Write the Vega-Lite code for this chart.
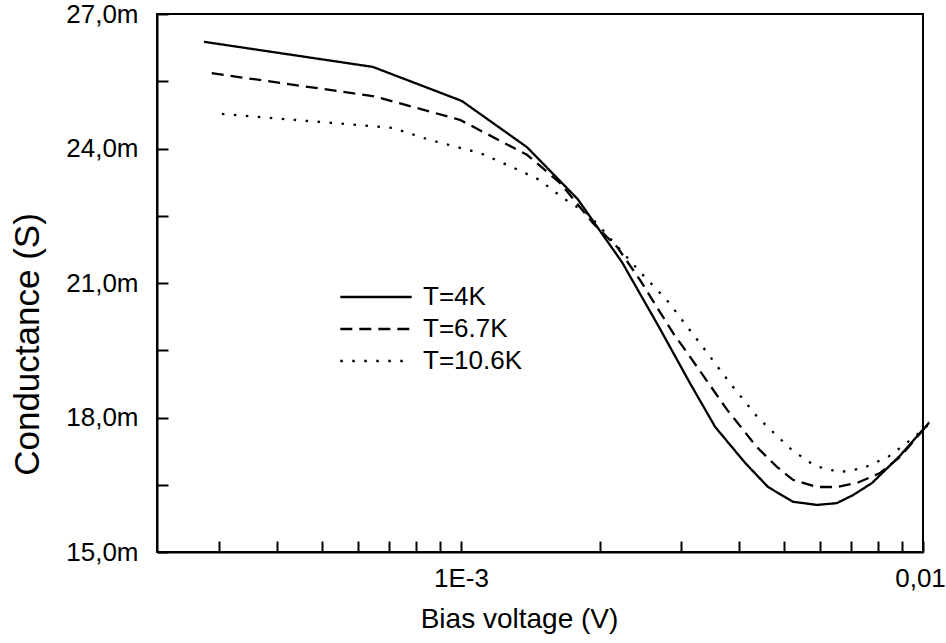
{
  "$schema": "https://vega.github.io/schema/vega-lite/v6.json",
  "width": 766,
  "height": 538,
  "autosize": "none",
  "padding": {"left": 157, "top": 14, "right": 23, "bottom": 91},
  "background": "white",
  "config": {
    "view": {"stroke": "black", "strokeWidth": 2},
    "font": "Liberation Sans",
    "axis": {
      "domainColor": "black", "domainWidth": 2,
      "tickColor": "black", "tickWidth": 2,
      "labelColor": "black", "labelFont": "Liberation Sans", "labelFontSize": 26,
      "titleColor": "black", "titleFont": "Liberation Sans", "titleFontWeight": "normal",
      "grid": false
    }
  },
  "data": {
    "values": [
      {"V": 0.000278, "G": 26.38, "T": "T=4K"},
      {"V": 0.000645, "G": 25.82, "T": "T=4K"},
      {"V": 0.001005, "G": 25.06, "T": "T=4K"},
      {"V": 0.00139, "G": 24.03, "T": "T=4K"},
      {"V": 0.00179, "G": 22.87, "T": "T=4K"},
      {"V": 0.00223, "G": 21.47, "T": "T=4K"},
      {"V": 0.0027, "G": 19.97, "T": "T=4K"},
      {"V": 0.00313, "G": 18.77, "T": "T=4K"},
      {"V": 0.00355, "G": 17.79, "T": "T=4K"},
      {"V": 0.00412, "G": 16.99, "T": "T=4K"},
      {"V": 0.00462, "G": 16.45, "T": "T=4K"},
      {"V": 0.00523, "G": 16.12, "T": "T=4K"},
      {"V": 0.0059, "G": 16.05, "T": "T=4K"},
      {"V": 0.00651, "G": 16.09, "T": "T=4K"},
      {"V": 0.00706, "G": 16.27, "T": "T=4K"},
      {"V": 0.00776, "G": 16.54, "T": "T=4K"},
      {"V": 0.00892, "G": 17.15, "T": "T=4K"},
      {"V": 0.0103, "G": 17.88, "T": "T=4K"},

      {"V": 0.000289, "G": 25.68, "T": "T=6.7K"},
      {"V": 0.000645, "G": 25.17, "T": "T=6.7K"},
      {"V": 0.000995, "G": 24.64, "T": "T=6.7K"},
      {"V": 0.00139, "G": 23.86, "T": "T=6.7K"},
      {"V": 0.00164, "G": 23.23, "T": "T=6.7K"},
      {"V": 0.00193, "G": 22.34, "T": "T=6.7K"},
      {"V": 0.00218, "G": 21.8, "T": "T=6.7K"},
      {"V": 0.00244, "G": 21.07, "T": "T=6.7K"},
      {"V": 0.00288, "G": 19.88, "T": "T=6.7K"},
      {"V": 0.00309, "G": 19.44, "T": "T=6.7K"},
      {"V": 0.00377, "G": 18.17, "T": "T=6.7K"},
      {"V": 0.00437, "G": 17.34, "T": "T=6.7K"},
      {"V": 0.00483, "G": 16.9, "T": "T=6.7K"},
      {"V": 0.00523, "G": 16.61, "T": "T=6.7K"},
      {"V": 0.0059, "G": 16.45, "T": "T=6.7K"},
      {"V": 0.00651, "G": 16.45, "T": "T=6.7K"},
      {"V": 0.0072, "G": 16.54, "T": "T=6.7K"},
      {"V": 0.00807, "G": 16.76, "T": "T=6.7K"},
      {"V": 0.00892, "G": 17.12, "T": "T=6.7K"},
      {"V": 0.01, "G": 17.72, "T": "T=6.7K"},
      {"V": 0.0103, "G": 17.9, "T": "T=6.7K"},

      {"V": 0.000304, "G": 24.77, "T": "T=10.6K"},
      {"V": 0.000712, "G": 24.46, "T": "T=10.6K"},
      {"V": 0.000857, "G": 24.19, "T": "T=10.6K"},
      {"V": 0.0011, "G": 23.9, "T": "T=10.6K"},
      {"V": 0.0013, "G": 23.57, "T": "T=10.6K"},
      {"V": 0.00148, "G": 23.3, "T": "T=10.6K"},
      {"V": 0.00166, "G": 22.9, "T": "T=10.6K"},
      {"V": 0.00187, "G": 22.56, "T": "T=10.6K"},
      {"V": 0.002, "G": 22.25, "T": "T=10.6K"},
      {"V": 0.00244, "G": 21.25, "T": "T=10.6K"},
      {"V": 0.00279, "G": 20.62, "T": "T=10.6K"},
      {"V": 0.00338, "G": 19.5, "T": "T=10.6K"},
      {"V": 0.00382, "G": 18.77, "T": "T=10.6K"},
      {"V": 0.0044, "G": 17.99, "T": "T=10.6K"},
      {"V": 0.00521, "G": 17.27, "T": "T=10.6K"},
      {"V": 0.00584, "G": 16.92, "T": "T=10.6K"},
      {"V": 0.00661, "G": 16.78, "T": "T=10.6K"},
      {"V": 0.00742, "G": 16.87, "T": "T=10.6K"},
      {"V": 0.0084, "G": 17.12, "T": "T=10.6K"},
      {"V": 0.00951, "G": 17.54, "T": "T=10.6K"},
      {"V": 0.0103, "G": 17.85, "T": "T=10.6K"}
    ]
  },
  "mark": {"type": "line", "stroke": "black", "strokeWidth": 2.3, "clip": false},
  "encoding": {
    "x": {
      "field": "V", "type": "quantitative",
      "scale": {"type": "log", "domain": [0.00022, 0.01], "nice": false},
      "title": "Bias voltage (V)",
      "axis": {
        "values": [0.0003, 0.0004, 0.0005, 0.0006, 0.0007, 0.0008, 0.0009, 0.001, 0.002, 0.003, 0.004, 0.005, 0.006, 0.007, 0.008, 0.009, 0.01],
        "labelExpr": "abs(datum.value - 0.001) < 1e-9 ? '1E-3' : (abs(datum.value - 0.01) < 1e-9 ? '0,01' : '')",
        "labelOffset": {"condition": {"test": "abs(datum.value - 0.01) < 1e-9", "value": -3}, "value": 0},
        "tickSize": -11,
        "labelPadding": 24,
        "labelFlush": false,
        "labelOverlap": false,
        "titleFontSize": 28,
        "titlePadding": 14,
        "titleX": 362,
        "titleAlign": "center",
        "encode": {
          "ticks": {"update": {"y2": {"signal": "(abs(datum.value - 0.001) < 1e-9 || abs(datum.value - 0.01) < 1e-9) ? -11 : -7"}}}
        }
      }
    },
    "y": {
      "field": "G", "type": "quantitative",
      "scale": {"domain": [15, 27], "nice": false, "zero": false},
      "title": "Conductance (S)",
      "axis": {
        "values": [15, 16.5, 18, 19.5, 21, 22.5, 24, 25.5, 27],
        "labelExpr": "datum.value % 3 == 0 ? replace(format(datum.value, '.1f'), '.', ',') + 'm' : ''",
        "tickSize": -11,
        "labelPadding": 30,
        "labelFlush": false,
        "labelOverlap": false,
        "titleFontSize": 35,
        "titleX": -130,
        "titleY": 330,
        "titleAlign": "center",
        "titleBaseline": "middle",
        "titleAngle": -90,
        "encode": {
          "ticks": {"update": {"x2": {"signal": "datum.value % 3 == 0 ? 11 : 7"}}}
        }
      }
    },
    "strokeDash": {
      "field": "T", "type": "nominal",
      "scale": {"domain": ["T=4K", "T=6.7K", "T=10.6K"], "range": [[1, 0], [12, 7], [2.5, 9.5]]},
      "legend": {
        "orient": "none", "legendX": 182, "legendY": 270, "title": null,
        "symbolType": "stroke", "symbolSize": 5100, "symbolStrokeWidth": 2.3, "symbolStrokeColor": "black",
        "labelFont": "Liberation Sans", "labelFontSize": 26, "labelColor": "black", "labelOffset": 10,
        "clipHeight": 26, "rowPadding": 6, "padding": 0
      }
    }
  }
}
